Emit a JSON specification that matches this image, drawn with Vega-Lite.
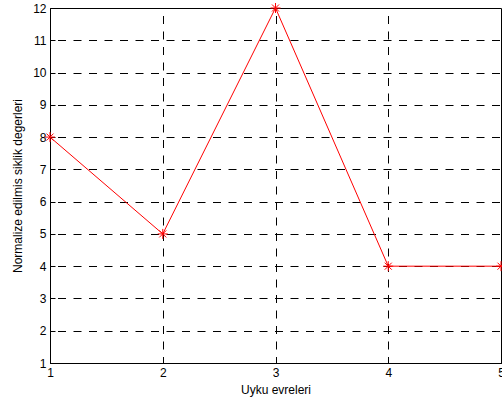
{
  "$schema": "https://vega.github.io/schema/vega-lite/v6.json",
  "width": 451,
  "height": 355,
  "autosize": {"type": "none"},
  "padding": {"left": 50, "top": 8, "right": 1, "bottom": 43},
  "background": "white",
  "config": {
    "view": {"stroke": "black", "strokeWidth": 1},
    "font": "Liberation Sans",
    "axis": {
      "domainColor": "black",
      "domainWidth": 1,
      "grid": true,
      "gridColor": "black",
      "gridDash": [8, 7.5],
      "gridDashOffset": 8,
      "gridOpacity": 1,
      "gridWidth": 1,
      "ticks": true,
      "tickSize": -5,
      "tickColor": "black",
      "tickWidth": 1,
      "labelFont": "Liberation Sans",
      "labelFontSize": 12,
      "labelColor": "black",
      "titleFont": "Liberation Sans",
      "titleFontSize": 12,
      "titleFontWeight": "normal",
      "titleColor": "black"
    }
  },
  "data": {
    "values": [
      {"evre": 1, "deger": 8},
      {"evre": 2, "deger": 5},
      {"evre": 3, "deger": 12},
      {"evre": 4, "deger": 4},
      {"evre": 5, "deger": 4}
    ]
  },
  "encoding": {
    "x": {
      "field": "evre",
      "type": "quantitative",
      "scale": {"domain": [1, 5], "nice": false, "zero": false},
      "axis": {"values": [1, 2, 3, 4, 5], "title": "Uyku evreleri", "labelPadding": 9, "titlePadding": 6, "labelFlush": false}
    },
    "y": {
      "field": "deger",
      "type": "quantitative",
      "scale": {"domain": [1, 12], "nice": false, "zero": false},
      "axis": {"values": [1, 2, 3, 4, 5, 6, 7, 8, 9, 10, 11, 12], "title": "Normalize edilmis siklik degerleri", "labelPadding": 9, "titlePadding": 8, "labelFlush": false}
    }
  },
  "layer": [
    {"mark": {"type": "line", "color": "#ff0000", "strokeWidth": 1, "clip": false}},
    {"mark": {"type": "point", "shape": "M-1,0L1,0M0,-1L0,1M-0.7,-0.7L0.7,0.7M-0.7,0.7L0.7,-0.7", "filled": false, "stroke": "#ff0000", "strokeWidth": 1, "size": 100, "opacity": 1, "clip": false}}
  ]
}
